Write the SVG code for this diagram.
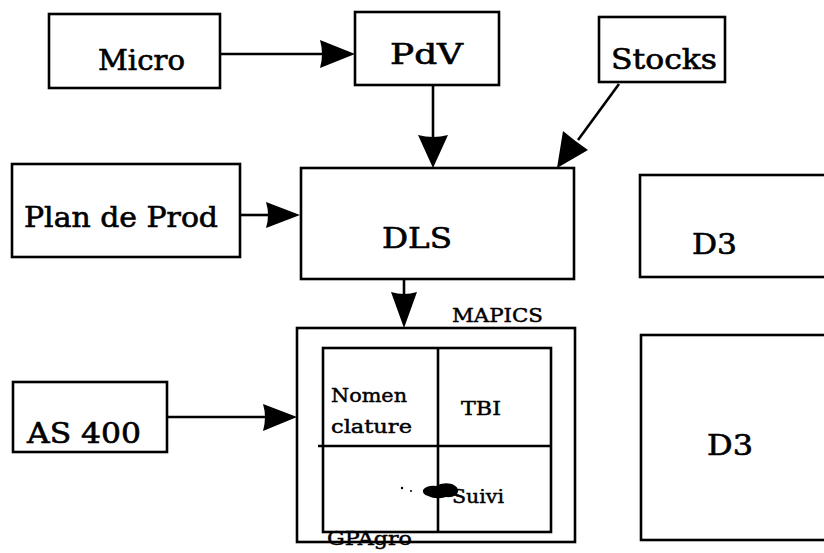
<svg xmlns="http://www.w3.org/2000/svg" width="824" height="553" viewBox="0 0 824 553">
<style>
.box{fill:#fff;stroke:#000;stroke-width:2.6}
.ln{fill:none;stroke:#000;stroke-width:2.6}
.hd{fill:#000;stroke:none}
.t{font-family:"DejaVu Serif","Liberation Serif",serif;font-size:27px;fill:#000;stroke:#000;stroke-width:0.6}
.s{font-family:"DejaVu Serif","Liberation Serif",serif;font-size:19px;fill:#000;stroke:#000;stroke-width:0.45}
</style>
<rect width="824" height="553" fill="#fff"/>
<g id="connectors">
<line class="ln" x1="220" y1="54" x2="322" y2="54"/>
<path class="hd" d="M355,54 L320,40 Q324,54 320,68 Z"/>
<line class="ln" x1="433" y1="85" x2="433" y2="138"/>
<path class="hd" d="M433,168 L418,135 Q433,139 448,135 Z"/>
<line class="ln" x1="619" y1="84" x2="578" y2="140"/>
<path class="hd" d="M557,168 L563,131 Q576,142 588,150 Z"/>
<line class="ln" x1="240" y1="215" x2="268" y2="215"/>
<path class="hd" d="M300,215 L266,202 Q270,215 266,228 Z"/>
<line class="ln" x1="404" y1="280" x2="404" y2="295"/>
<path class="hd" d="M404,328 L391,292 Q404,296 417,292 Z"/>
<line class="ln" x1="167" y1="417" x2="266" y2="417"/>
<path class="hd" d="M297,417 L263,404 Q267,417 263,431 Z"/>
</g>
<g id="micro"><rect class="box" x="49" y="14" width="171" height="74"/><text class="t" x="98" y="70" textLength="87" lengthAdjust="spacingAndGlyphs">Micro</text></g>
<g id="pdv"><rect class="box" x="355" y="12" width="144" height="73"/><text class="t" x="390" y="64" textLength="73" lengthAdjust="spacingAndGlyphs">PdV</text></g>
<g id="stocks"><rect class="box" x="599" y="17" width="126" height="65"/><text class="t" x="611" y="69" textLength="106" lengthAdjust="spacingAndGlyphs">Stocks</text></g>
<g id="plan"><rect class="box" x="12" y="164" width="228" height="93"/><text class="t" x="24" y="227" textLength="194" lengthAdjust="spacingAndGlyphs">Plan de Prod</text></g>
<g id="dls"><rect class="box" x="301" y="168" width="273" height="111"/><text class="t" x="382" y="248" textLength="70" lengthAdjust="spacingAndGlyphs">DLS</text></g>
<g id="d3a"><rect class="box" x="640" y="175" width="200" height="102"/><text class="t" x="692" y="254" textLength="45" lengthAdjust="spacingAndGlyphs">D3</text></g>
<g id="d3b"><rect class="box" x="641" y="335" width="200" height="205"/><text class="t" x="707" y="455" textLength="46" lengthAdjust="spacingAndGlyphs">D3</text></g>
<g id="as400"><rect class="box" x="13" y="382" width="154" height="70"/><text class="t" x="27" y="443" textLength="114" lengthAdjust="spacingAndGlyphs">AS 400</text></g>
<g id="mapics">
<rect class="box" x="297" y="328" width="278" height="214"/>
<rect class="box" x="323" y="348" width="228" height="184"/>
<line class="ln" x1="438" y1="348" x2="438" y2="532"/>
<line class="ln" x1="318" y1="446" x2="551" y2="446"/>
<text class="s" x="452" y="322" textLength="91" lengthAdjust="spacingAndGlyphs">MAPICS</text>
<text class="s" x="331" y="402" textLength="76" lengthAdjust="spacingAndGlyphs">Nomen</text>
<text class="s" x="331" y="433" textLength="81" lengthAdjust="spacingAndGlyphs">clature</text>
<text class="s" x="461" y="415" textLength="40" lengthAdjust="spacingAndGlyphs">TBI</text>
<text class="s" x="452" y="503" textLength="52" lengthAdjust="spacingAndGlyphs">Suivi</text>
<text class="s" x="327" y="545" textLength="85" lengthAdjust="spacingAndGlyphs">GPAgro</text>
<path class="hd" d="M423,490 Q427,485 436,486 Q442,482 452,484 Q459,487 458,492 Q456,498 446,497 Q436,500 428,496 Q422,494 423,490 Z"/>
<circle class="hd" cx="402" cy="488" r="1.2"/>
<circle class="hd" cx="411" cy="491" r="1"/>
</g>
</svg>
